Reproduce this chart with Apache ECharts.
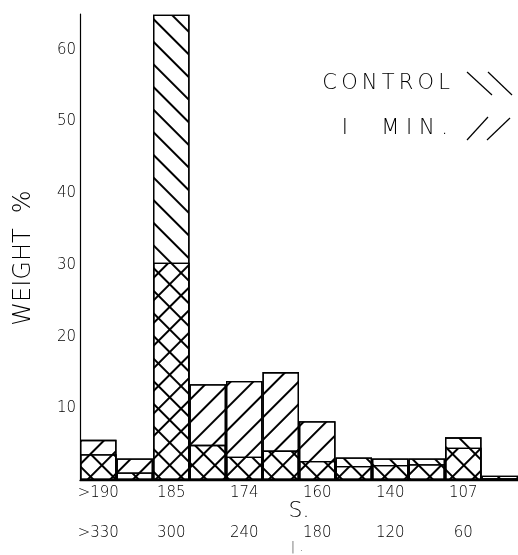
<!DOCTYPE html>
<html>
<head>
<meta charset="utf-8">
<script src="https://cdn.jsdelivr.net/npm/echarts@6/dist/echarts.min.js"></script>
<style>html,body{margin:0;padding:0;background:#fff}#c{width:518px;height:555px}</style>
</head>
<body>
<div id="c"></div>
<script>
// bins (12 size classes)
var bins = ['b1','b2','b3','b4','b5','b6','b7','b8','b9','b10','b11','b12'];
// weight % per bin
var control = [3.6, 1.05, 64.9, 4.9, 3.25, 4.1, 2.65, 3.15, 3.0, 3.0, 5.95, 0.6];
var oneMin  = [5.6, 3.0, 30.3, 13.35, 13.8, 15.05, 8.2, 1.95, 2.1, 2.2, 4.5, 0.25];
// tick labels (every other bin)
var sizeLabels = ['>190', '185', '174', '160', '140', '107'];
var timeLabels = ['>330', '300', '240', '180', '120', '60'];
var yTicks = [10, 20, 30, 40, 50, 60];

var FONT = 'DejaVu Sans';
var chart = echarts.init(document.getElementById('c'), null, {renderer: 'canvas'});

function hatch(rot) {
  return {
    symbol: 'rect', symbolSize: 1,
    dashArrayX: [1, 0], dashArrayY: [1.3, 13.5],
    rotation: rot, color: '#000', backgroundColor: 'rgba(0,0,0,0)'
  };
}

chart.setOption({
  backgroundColor: '#fff',
  animation: false,
  grid: {left: 80, top: 14, width: 440, height: 466},
  xAxis: {
    type: 'category', data: bins, boundaryGap: true,
    axisLine: {show: true, lineStyle: {color: '#000', width: 1.3}},
    axisTick: {show: false},
    axisLabel: {
      interval: 0, margin: 3,
      formatter: function (v, i) {
        if (i % 2 !== 0) return '';
        var k = i / 2;
        return '{a|' + sizeLabels[k] + '}\n{b|' + timeLabels[k] + '}';
      },
      rich: {
        a: {fontFamily: FONT, fontSize: 15, fontWeight: 200, color: '#000', lineHeight: 20},
        b: {fontFamily: FONT, fontSize: 15, fontWeight: 200, color: '#000', lineHeight: 60}
      }
    }
  },
  yAxis: {
    type: 'value', min: 0, max: 65, interval: 10,
    axisLine: {show: true, lineStyle: {color: '#000', width: 1.2}},
    axisTick: {show: false},
    splitLine: {show: false},
    axisLabel: {
      margin: 4, fontFamily: FONT, fontSize: 15, fontWeight: 200, color: '#000',
      formatter: function (v) { return yTicks.indexOf(v) >= 0 ? String(v) : ''; }
    }
  },
  series: [
    {
      name: '1 MIN.', type: 'bar', data: oneMin, barWidth: '100%', barGap: '-100%',
      itemStyle: {color: 'rgba(0,0,0,0)', borderColor: '#000', borderWidth: 1.3, decal: hatch(-Math.PI / 4)}
    },
    {
      name: 'CONTROL', type: 'bar', data: control, barWidth: '100%', barGap: '-100%',
      itemStyle: {color: 'rgba(0,0,0,0)', borderColor: '#000', borderWidth: 1.3, decal: hatch(Math.PI / 4)}
    }
  ],
  graphic: [
    {type: 'text', x: 24, y: 258, rotation: Math.PI / 2,
     style: {text: 'WEIGHT  %', fontFamily: FONT, fontSize: 24, fontWeight: 200, fill: '#000', align: 'center', verticalAlign: 'middle'}},
    {type: 'text', x: 299, y: 511,
     style: {text: 'S.', fontFamily: FONT, fontSize: 22, fontWeight: 200, fill: '#000', align: 'center', verticalAlign: 'middle'}},
    {type: 'text', x: 297, y: 548,
     style: {text: '| .', fontFamily: FONT, fontSize: 13, fontWeight: 200, fill: '#333', align: 'center', verticalAlign: 'middle'}},
    {type: 'text', x: 450, y: 84,
     style: {text: 'C\u2009O\u2009N\u2009T\u2009R\u2009O\u2009L', fontFamily: FONT, fontSize: 21, fontWeight: 200, fill: '#000', align: 'right', verticalAlign: 'middle'}},
    {type: 'text', x: 448, y: 129,
     style: {text: 'I     M I N .', fontFamily: FONT, fontSize: 21, fontWeight: 200, fill: '#000', align: 'right', verticalAlign: 'middle'}},
    {type: 'line', shape: {x1: 467, y1: 72, x2: 492, y2: 95}, style: {stroke: '#000', lineWidth: 1.2}},
    {type: 'line', shape: {x1: 488, y1: 72, x2: 512, y2: 95}, style: {stroke: '#000', lineWidth: 1.2}},
    {type: 'line', shape: {x1: 467, y1: 140, x2: 488, y2: 117}, style: {stroke: '#000', lineWidth: 1.2}},
    {type: 'line', shape: {x1: 487, y1: 140, x2: 510, y2: 118}, style: {stroke: '#000', lineWidth: 1.2}}
  ]
});
</script>
</body>
</html>
